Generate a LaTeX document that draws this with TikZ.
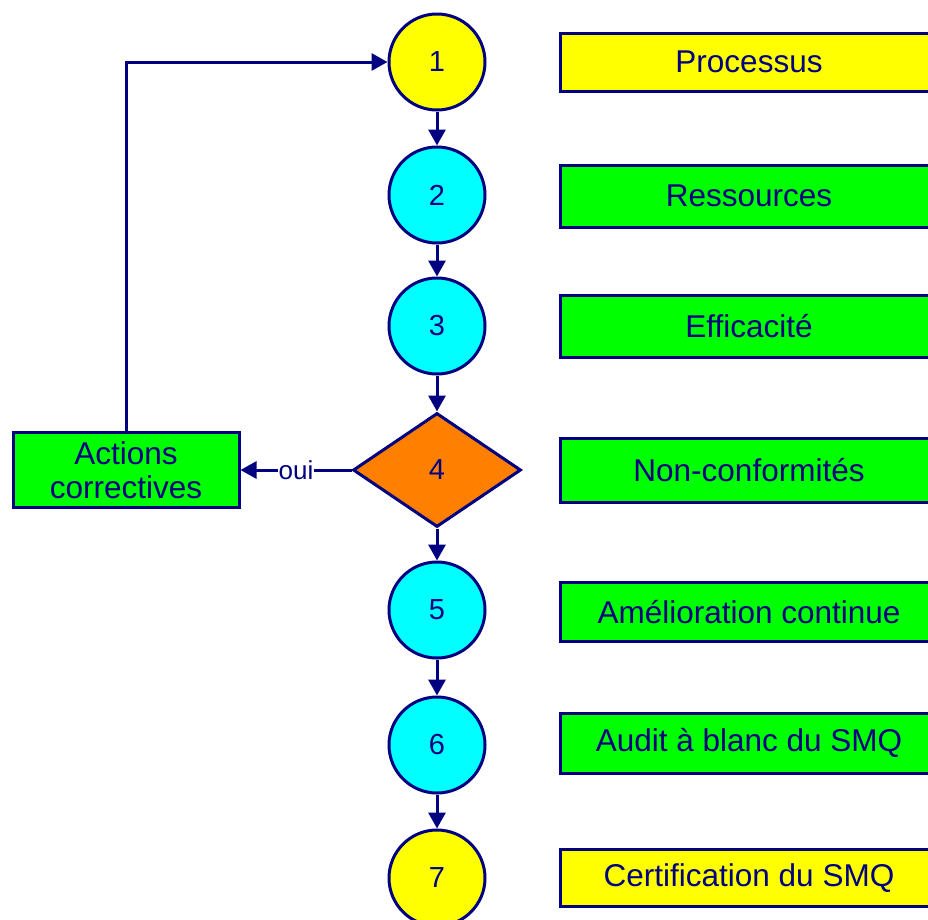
\documentclass[tikz,border=0pt]{standalone}
\usepackage{fontspec}
\setmainfont{Liberation Sans}
\usetikzlibrary{shapes.geometric,arrows.meta}
\definecolor{navy}{RGB}{0,0,128}
\definecolor{yel}{RGB}{255,255,0}
\definecolor{cya}{RGB}{0,255,255}
\definecolor{grn}{RGB}{0,255,0}
\definecolor{org}{RGB}{255,128,0}
\tikzset{
  base/.style={draw=navy, line width=3pt, text=navy, inner sep=0pt},
  stepcirc/.style={base, circle, minimum size=96pt, font=\fontsize{29}{32}\selectfont},
  decis/.style={base, diamond, minimum width=168pt, minimum height=114pt, font=\fontsize{29}{32}\selectfont},
  labbox/.style={base, rectangle, minimum width=378pt, font=\fontsize{31.5}{36}\selectfont},
  flow/.style={draw=navy, line width=3pt, -{Triangle[length=16pt,width=17pt]}},
}
\begin{document}
\begin{tikzpicture}[x=1pt,y=1pt]
\clip (0,0) rectangle (928,-919);
\fill[white] (0,0) rectangle (928,-919);
% circles
\node[stepcirc, fill=yel] (c1) at (437,-62) {1};
\node[stepcirc, fill=cya] (c2) at (437,-195) {2};
\node[stepcirc, fill=cya] (c3) at (437,-326) {3};
\node[decis, fill=org] (d4) at (437,-470) {4};
\node[stepcirc, fill=cya] (c5) at (437,-610) {5};
\node[stepcirc, fill=cya] (c6) at (437,-745) {6};
\node[stepcirc, fill=yel] (c7) at (437,-878) {7};
% labels
\node[labbox, fill=yel, minimum height=58pt] (b1) at (749,-62) {Processus};
\node[labbox, fill=grn, minimum height=62pt] (b2) at (749,-196) {Ressources};
\node[labbox, fill=grn, minimum height=62pt] (b3) at (749,-326) {Efficacité};
\node[labbox, fill=grn, minimum height=64pt] (b4) at (749,-470) {Non-conformités};
\node[labbox, fill=grn, minimum height=59pt] (b5) at (749,-612) {Amélioration continue};
\node[labbox, fill=grn, minimum height=60pt] (b6) at (749,-743) {Audit à blanc du SMQ};
\node[labbox, fill=yel, minimum height=57pt] (b7) at (749,-878) {Certification du SMQ};
% actions correctives
\node[base, rectangle, fill=grn, minimum width=226pt, minimum height=75pt, align=center,
      font=\fontsize{31.5}{37}\selectfont] (ac) at (126,-470) {Actions\\[-3pt]correctives};
% connectors
\draw[flow] (c1) -- (c2);
\draw[flow] (c2) -- (c3);
\draw[flow] (c3) -- (d4);
\draw[flow] (d4) -- (c5);
\draw[flow] (c5) -- (c6);
\draw[flow] (c6) -- (c7);
\draw[flow] (d4.west) -- node[fill=white, text=navy, inner sep=1pt, font=\fontsize{26}{28}\selectfont] (oui) {oui} (ac.east);
\draw[flow] (ac.north) |- (c1.west);
\end{tikzpicture}
\end{document}
